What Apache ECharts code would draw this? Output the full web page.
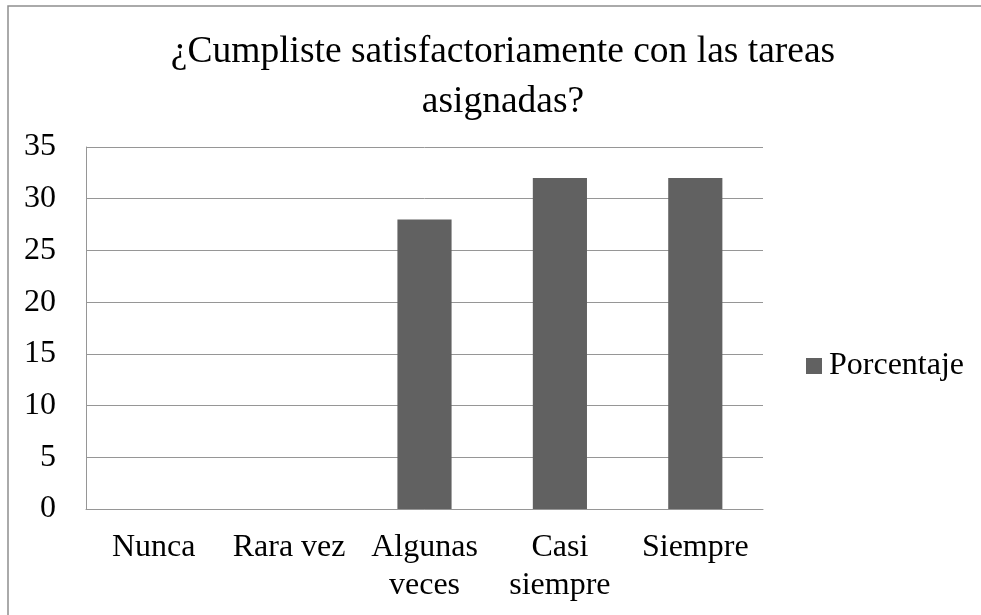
<!DOCTYPE html>
<html>
<head>
<meta charset="utf-8">
<script src="https://cdn.jsdelivr.net/npm/echarts@6/dist/echarts.min.js"></script>
<style>
  html, body { margin: 0; padding: 0; background: #fff; }
  #chart { width: 981px; height: 615px; }
</style>
</head>
<body>
<div id="chart"></div>
<script>
// datos
var categorias = ['Nunca', 'Rara vez', 'Algunas\nveces', 'Casi\nsiempre', 'Siempre'];
var porcentaje = [0, 0, 28, 32, 32];
var yTicks = { min: 0, max: 35, interval: 5 };
var titulo = '¿Cumpliste satisfactoriamente con las tareas\nasignadas?';
var serieNombre = 'Porcentaje';

var fuente = "'Liberation Serif', 'Times New Roman', serif";
var gris = '#969696';
var barra = '#616161';

var chart = echarts.init(document.getElementById('chart'));
chart.setOption({
  animation: false,
  backgroundColor: '#fff',
  title: {
    text: titulo,
    left: 503,
    top: 27,
    padding: 0,
    textAlign: 'center',
    textStyle: {
      fontFamily: fuente,
      fontSize: 37.5,
      fontWeight: 'normal',
      color: '#000',
      lineHeight: 50
    }
  },
  graphic: [{
    type: 'rect',
    silent: true,
    shape: { x: 8, y: 6, width: 1000, height: 700 },
    style: { fill: 'none', stroke: '#8e8e8e', lineWidth: 1.5 }
  }],
  legend: {
    data: [serieNombre],
    left: 806,
    top: 349,
    padding: 0,
    orient: 'vertical',
    icon: 'rect',
    itemWidth: 16,
    itemHeight: 16,
    itemGap: 0,
    textStyle: {
      fontFamily: fuente,
      fontSize: 32,
      color: '#000',
      lineHeight: 34,
      padding: [0, 0, 0, 2]
    }
  },
  grid: {
    left: 86,
    right: 218,
    top: 147,
    bottom: 106
  },
  xAxis: {
    type: 'category',
    data: categorias,
    axisLine: { show: true, lineStyle: { color: gris, width: 1 } },
    axisTick: { show: false },
    axisLabel: {
      interval: 0,
      margin: 20,
      fontFamily: fuente,
      fontSize: 32,
      color: '#000',
      lineHeight: 38,
      verticalAlign: 'top'
    }
  },
  yAxis: {
    type: 'value',
    min: yTicks.min,
    max: yTicks.max,
    interval: yTicks.interval,
    axisLine: { show: true, lineStyle: { color: gris, width: 1 } },
    axisTick: { show: false },
    splitLine: { show: true, lineStyle: { color: gris, width: 1 } },
    axisLabel: {
      margin: 30,
      fontFamily: fuente,
      fontSize: 32,
      color: '#000'
    }
  },
  series: [{
    name: serieNombre,
    type: 'bar',
    data: porcentaje,
    barCategoryGap: '60%',
    itemStyle: { color: barra }
  }]
});
</script>
</body>
</html>
